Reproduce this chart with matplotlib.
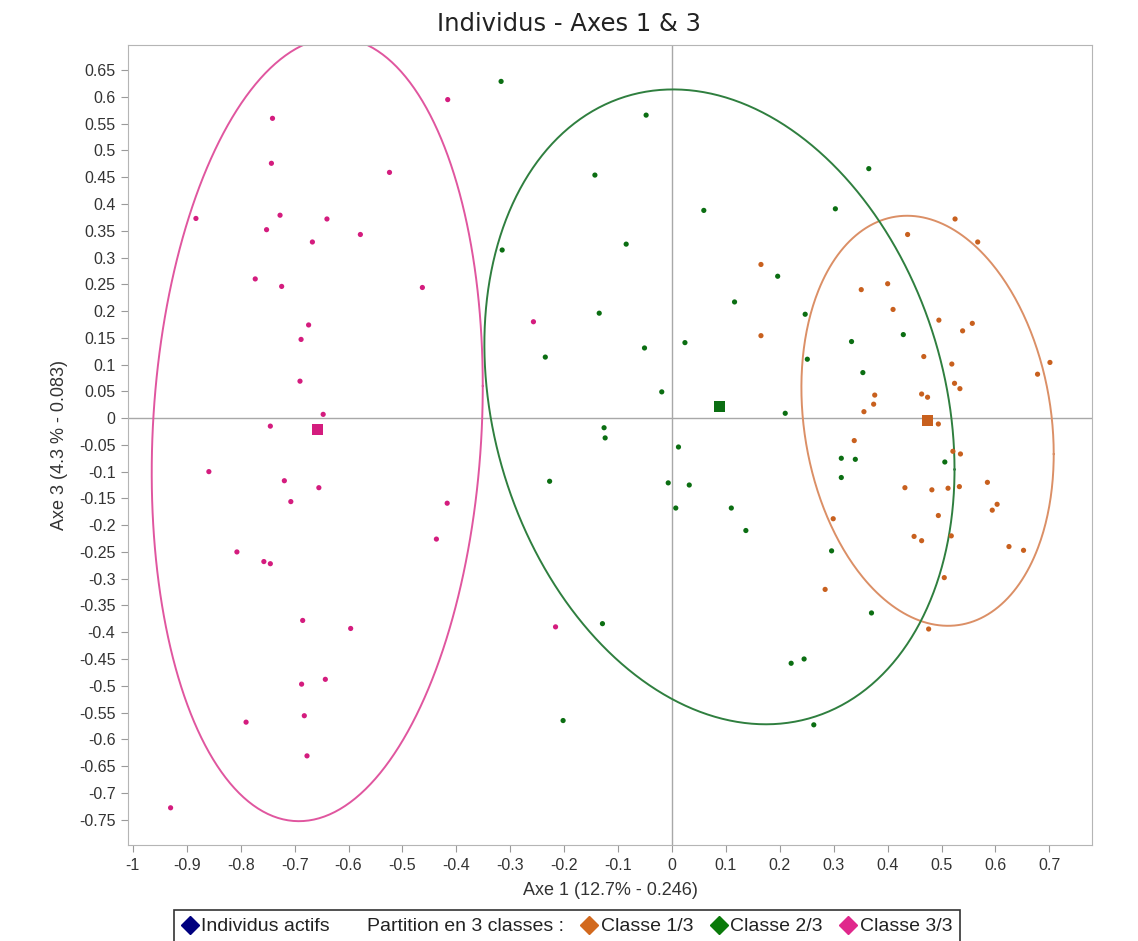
import numpy as np
import matplotlib
matplotlib.use("Agg")
import matplotlib.pyplot as plt
from matplotlib.lines import Line2D
from matplotlib.ticker import FuncFormatter

# Classe 1/3 (orange)
c1_x = [0.165, 0.165, 0.525, 0.437, 0.567, 0.400, 0.351, 0.410, 0.495, 0.557,
        0.539, 0.467, 0.519, 0.701, 0.678, 0.524, 0.534, 0.463, 0.474, 0.376,
        0.374, 0.356, 0.494, 0.338, 0.521, 0.535, 0.585, 0.432, 0.482, 0.512,
        0.533, 0.603, 0.594, 0.299, 0.494, 0.449, 0.463, 0.518, 0.625, 0.652,
        0.505, 0.284, 0.476]
c1_y = [0.287, 0.154, 0.372, 0.343, 0.329, 0.251, 0.240, 0.203, 0.183, 0.177,
        0.163, 0.115, 0.101, 0.104, 0.082, 0.065, 0.055, 0.045, 0.039, 0.043,
        0.026, 0.012, -0.011, -0.042, -0.062, -0.067, -0.120, -0.130, -0.134, -0.131,
        -0.128, -0.161, -0.172, -0.188, -0.182, -0.221, -0.229, -0.220, -0.240, -0.247,
        -0.298, -0.320, -0.394]

# Classe 2/3 (vert)
c2_x = [-0.317, -0.048, -0.143, 0.059, -0.315, -0.085, 0.196, 0.116, -0.135, 0.024,
        -0.051, -0.235, -0.019, 0.210, -0.126, -0.124, 0.012, -0.227, -0.007, 0.032,
        0.007, 0.110, 0.137, -0.129, -0.202, 0.365, 0.303, 0.247, 0.429, 0.333,
        0.251, 0.354, 0.314, 0.340, 0.314, 0.506, 0.296, 0.370, 0.221, 0.245,
        0.263]
c2_y = [0.629, 0.566, 0.454, 0.388, 0.314, 0.325, 0.265, 0.217, 0.196, 0.141,
        0.131, 0.114, 0.049, 0.009, -0.018, -0.037, -0.054, -0.118, -0.121, -0.125,
        -0.168, -0.168, -0.210, -0.384, -0.565, 0.466, 0.391, 0.194, 0.156, 0.143,
        0.110, 0.085, -0.075, -0.077, -0.111, -0.082, -0.248, -0.364, -0.458, -0.450,
        -0.573]

# Classe 3/3 (rose)
c3_x = [-0.883, -0.741, -0.743, -0.524, -0.727, -0.752, -0.640, -0.667, -0.578, -0.773,
        -0.724, -0.674, -0.688, -0.690, -0.647, -0.745, -0.416, -0.463, -0.257, -0.859,
        -0.719, -0.655, -0.707, -0.807, -0.757, -0.745, -0.685, -0.596, -0.687, -0.643,
        -0.682, -0.790, -0.677, -0.930, -0.417, -0.437, -0.216]
c3_y = [0.373, 0.560, 0.476, 0.459, 0.379, 0.352, 0.372, 0.329, 0.343, 0.260,
        0.246, 0.174, 0.147, 0.069, 0.007, -0.015, 0.595, 0.244, 0.180, -0.100,
        -0.117, -0.130, -0.156, -0.250, -0.268, -0.272, -0.378, -0.393, -0.497, -0.488,
        -0.556, -0.568, -0.631, -0.728, -0.159, -0.226, -0.390]

# centres de classes
centre_x = [0.474, 0.088, -0.658]
centre_y = [-0.005, 0.021, -0.021]

# ellipses : demi-largeur, demi-hauteur, decalage x du point haut
ell_w = [0.234, 0.436, 0.307]
ell_h = [0.383, 0.593, 0.732]
ell_dx = [-0.038, -0.086, 0.034]

classes = ["Classe 1/3", "Classe 2/3", "Classe 3/3"]
pt_colors = ["#C8601E", "#0B6E12", "#D41C7E"]
ell_colors = ["#DB8F66", "#2F7F3F", "#E0569F"]
leg_colors = ["#D2691E", "#0A7A0A", "#E0288C"]

xs = [c1_x, c2_x, c3_x]
ys = [c1_y, c2_y, c3_y]

plt.rcParams["font.family"] = ["Liberation Sans", "DejaVu Sans"]

fig = plt.figure(figsize=(11.38, 9.41), dpi=100)
ax = fig.add_axes([128 / 1138, 1 - 845 / 941, 964 / 1138, 800 / 941])

ax.axhline(0, color="#a8a8a8", lw=1.0, zorder=1)
ax.axvline(0, color="#a8a8a8", lw=1.0, zorder=1)

t = np.linspace(0, 2 * np.pi, 400)
for i in range(3):
    w, h = ell_w[i], ell_h[i]
    s = ell_dx[i] * h
    l21 = s / w
    l22 = np.sqrt(h ** 2 - l21 ** 2)
    ex = centre_x[i] + w * np.cos(t)
    ey = centre_y[i] + l21 * np.cos(t) + l22 * np.sin(t)
    ax.plot(ex, ey, color=ell_colors[i], lw=1.4, zorder=2)

for i in range(3):
    ax.scatter(xs[i], ys[i], s=14, color=pt_colors[i], edgecolors="none", zorder=3)
    ax.scatter([centre_x[i]], [centre_y[i]], s=60, marker="s", color=pt_colors[i],
               edgecolors="none", zorder=4)

ax.set_xlim(-1.009, 0.779)
ax.set_ylim(-0.7975, 0.697)
ax.set_xticks(np.round(np.arange(-1.0, 0.71, 0.1), 2))
ax.set_yticks(np.round(np.arange(-0.75, 0.66, 0.05), 2))
fmt = FuncFormatter(lambda v, p: f"{round(v, 2) + 0.0:g}")
ax.xaxis.set_major_formatter(fmt)
ax.yaxis.set_major_formatter(fmt)
ax.tick_params(axis="both", labelsize=11.5, colors="#9a9a9a", labelcolor="#333333",
               length=5, width=0.8, pad=4)
for sp in ax.spines.values():
    sp.set_color("#b5b5b5")

ax.set_xlabel("Axe 1 (12.7% - 0.246)", fontsize=13, color="#333333", labelpad=7)
ax.set_ylabel("Axe 3 (4.3 % - 0.083)", fontsize=13, color="#333333", labelpad=8)
fig.text(569 / 1138, 1 - 31 / 941, "Individus - Axes 1 & 3", ha="center", va="baseline",
         fontsize=17.5, color="#222222", family=["DejaVu Sans"])

handles = [Line2D([], [], ls="none", marker="D", color="#00007F", markersize=9.5),
           Line2D([], [], ls="none", marker=None)]
labels = ["Individus actifs", "Partition en 3 classes :"]
for i in range(3):
    handles.append(Line2D([], [], ls="none", marker="D", color=leg_colors[i], markersize=9.5))
    labels.append(classes[i])
leg = fig.legend(handles, labels, loc="upper center", bbox_to_anchor=(567 / 1138, 1 - 910 / 941),
                 ncol=5, frameon=True, fancybox=False, edgecolor="black", fontsize=14,
                 handlelength=0.8, handletextpad=0.2, columnspacing=0.9, borderpad=0.4,
                 borderaxespad=0)
leg.get_frame().set_linewidth(1.2)
for txt in leg.get_texts():
    txt.set_color("#222222")

fig.savefig("out.png", dpi=100)
